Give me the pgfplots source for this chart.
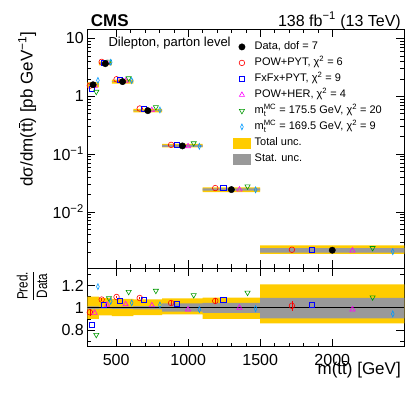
\documentclass[border=0pt]{standalone}
\usepackage{amsmath}
\usepackage{fontspec}
\setmainfont{Liberation Sans}
\usepackage{pgfplots}
\usepackage{pgfplotstable}
\pgfplotsset{compat=1.18}

\definecolor{totunc}{RGB}{255,204,0}
\definecolor{statunc}{RGB}{153,153,153}
\definecolor{powpyt}{RGB}{255,0,0}
\definecolor{fxfx}{RGB}{0,0,255}
\definecolor{powher}{RGB}{255,0,255}
\definecolor{mtup}{RGB}{0,153,0}
\definecolor{mtdn}{RGB}{0,153,255}

\newcommand{\ttbar}{t$\overline{\mbox{t}}$}

% one box per bin: x edge, data (pb/GeV), signed relative uncertainty
\pgfplotstableread{
x     d        f
300   1.58     0.100
380   1.58     0.100
380   1.58    -0.100
300   1.58    -0.100
nan   nan      nan
380   3.66     0.087
470   3.66     0.087
470   3.66    -0.068
380   3.66    -0.068
nan   nan      nan
470   1.79     0.080
620   1.79     0.080
620   1.79    -0.075
470   1.79    -0.075
nan   nan      nan
620   0.563    0.075
820   0.563    0.075
820   0.563   -0.065
620   0.563   -0.065
nan   nan      nan
820   0.138    0.085
1100  0.138    0.085
1100  0.138   -0.060
820   0.138   -0.060
nan   nan      nan
1100  0.0242   0.092
1500  0.0242   0.092
1500  0.0242  -0.100
1100  0.0242  -0.100
nan   nan      nan
1500  0.00216  0.210
2500  0.00216  0.210
2500  0.00216 -0.140
1500  0.00216 -0.140
}\totband

\pgfplotstableread{
x     d        f
300   1.58     0.012
380   1.58     0.012
380   1.58    -0.012
300   1.58    -0.012
nan   nan      nan
380   3.66     0.008
470   3.66     0.008
470   3.66    -0.008
380   3.66    -0.008
nan   nan      nan
470   1.79     0.010
620   1.79     0.010
620   1.79    -0.010
470   1.79    -0.010
nan   nan      nan
620   0.563    0.015
820   0.563    0.015
820   0.563   -0.015
620   0.563   -0.015
nan   nan      nan
820   0.138    0.040
1100  0.138    0.040
1100  0.138   -0.035
820   0.138   -0.035
nan   nan      nan
1100  0.0242   0.045
1500  0.0242   0.045
1500  0.0242  -0.045
1100  0.0242  -0.045
nan   nan      nan
1500  0.00216  0.090
2500  0.00216  0.090
2500  0.00216 -0.095
1500  0.00216 -0.095
}\statband

\pgfplotstableread{
x     y
340   1.58
425   3.66
545   1.79
720   0.563
960   0.138
1300  0.0242
2000  0.00216
}\data

% x, prediction (pb/GeV), ratio to data, MC unc on ratio
\pgfplotstableread{
x      y        r      e
317.6  1.517    0.960  0.030
399.8  3.931    1.074  0.012
503    1.964    1.097  0.012
664    0.6125   1.088  0.012
881.6  0.1439   1.043  0.015
1188   0.0257   1.062  0.030
1720   0.00220  1.018  0.045
}\powpytab

\pgfplotstableread{
x      y        r
328.8  1.335    0.845
412.4  3.759    1.027
524    1.897    1.060
692    0.6024   1.070
920.8  0.1432   1.038
1244   0.0260   1.075
1860   0.00221  1.024
}\fxfxtab

\pgfplotstableread{
x      y        r
351.2  1.509    0.955
437.6  3.759    1.027
566    1.847    1.032
748    0.5754   1.022
999.2  0.1359   0.985
1356   0.0242   1.000
2140   0.002128 0.985
}\powhertab

\pgfplotstableread{
x      y        r
362.4  1.196    0.757
450.2  3.975    1.086
587    2.046    1.143
776    0.6491   1.153
1038.4 0.1537   1.114
1412   0.0275   1.136
2280   0.002363 1.094
}\mtuptab

\pgfplotstableread{
x      y        r
373.6  1.880    1.190
462.8  3.872    1.058
608    1.869    1.044
804    0.5776   1.026
1077.6 0.1359   0.985
1468   0.0240   0.992
2420   0.002041 0.945
}\mtdntab

\pgfplotsset{
  cmsaxis/.style={
    scale only axis, width=317pt, xmin=300, xmax=2500,
    tick align=inside, tick pos=both,
    xtick={500,1000,1500,2000}, minor x tick num=4,
    major tick length=8pt, minor tick length=4pt,
    every tick/.style={black, line width=0.5pt},
    axis line style={line width=0.6pt},
    tick label style={font=\fontsize{16}{19}\selectfont},
    label style={font=\fontsize{17}{20}\selectfont},
    unbounded coords=jump,
  },
  band/.style={draw=none, fill=#1, forget plot},
  mk/.style={only marks, line width=0.6pt},
  mkpowpyt/.style={mk, powpyt, mark=o, mark size=2.8pt},
  mkfxfx/.style={mk, fxfx, mark=square, mark size=2.6pt},
  mkpowher/.style={mk, powher, mark=triangle, mark size=3pt},
  mkmtup/.style={mk, mtup, mark=triangle, mark size=3pt, mark options={rotate=180}},
  mkmtdn/.style={mk, mtdn, mark=diamond, mark size=3pt, mark options={xscale=0.6}},
}

\begin{document}
\begin{tikzpicture}

\begin{axis}[cmsaxis, at={(87.3pt,-268.3pt)}, anchor=south west, height=239pt,
  ymode=log, ymin=1.05e-3, ymax=14.4,
  ytick={0.01,0.1,1,10},
  yticklabels={10\textsuperscript{−2},10\textsuperscript{−1},1,10},
  minor ytick={0.002,0.003,0.004,0.005,0.006,0.007,0.008,0.009,
    0.02,0.03,0.04,0.05,0.06,0.07,0.08,0.09,
    0.2,0.3,0.4,0.5,0.6,0.7,0.8,0.9,2,3,4,5,6,7,8,9},
  xticklabels={},
  ylabel={dσ/dm(\ttbar) [pb GeV\textsuperscript{−1}]},
  ylabel style={at={(axis description cs:-0.19,1.005)}, anchor=east},
  legend cell align=left,
  legend style={draw=none, fill=none, at={(0.4596,0.9533)}, anchor=north west,
    inner sep=0pt, font=\fontsize{11}{13}\selectfont, row sep=3.5pt, column sep=3pt,
    nodes={inner sep=1pt, text height=8pt, text depth=2.5pt}},
]
\addlegendimage{only marks, black, mark=*, mark size=3.2pt}
\addlegendentry{Data, dof = 7}
\addlegendimage{mkpowpyt}
\addlegendentry{POW+PYT, χ\textsuperscript{2} = 6}
\addlegendimage{mkfxfx}
\addlegendentry{FxFx+PYT, χ\textsuperscript{2} = 9}
\addlegendimage{mkpowher}
\addlegendentry{POW+HER, χ\textsuperscript{2} = 4}
\addlegendimage{mkmtup}
\addlegendentry{m$_{\text{t}}^{\text{MC}}$ = 175.5 GeV, χ\textsuperscript{2} = 20}
\addlegendimage{mkmtdn}
\addlegendentry{m$_{\text{t}}^{\text{MC}}$ = 169.5 GeV, χ\textsuperscript{2} = 9}
\addlegendimage{legend image code/.code={\fill[totunc] (0pt,-5pt) rectangle (17.07pt,5pt);}}
\addlegendentry{Total unc.}
\addlegendimage{legend image code/.code={\fill[statunc] (0pt,-5pt) rectangle (17.07pt,5pt);}}
\addlegendentry{Stat. unc.}

\addplot[band=totunc] table[x=x, y expr=\thisrow{d}*(1+\thisrow{f})] {\totband};
\addplot[band=statunc] table[x=x, y expr=\thisrow{d}*(1+\thisrow{f})] {\statband};

\addplot[mkpowpyt, forget plot] table[x=x, y=y] {\powpytab};
\addplot[mkfxfx, forget plot] table[x=x, y=y] {\fxfxtab};
\addplot[mkpowher, forget plot] table[x=x, y=y] {\powhertab};
\addplot[mkmtup, forget plot] table[x=x, y=y] {\mtuptab};
\addplot[mkmtdn, forget plot] table[x=x, y=y] {\mtdntab};
\addplot[only marks, black, mark=*, mark size=3.2pt, forget plot] table[x=x, y=y] {\data};

\node[anchor=base west, font=\fontsize{13}{15}\selectfont]
  at (axis description cs:0.0558,0.930) {Dilepton, parton level};
\end{axis}

\begin{axis}[cmsaxis, at={(87.3pt,-346.5pt)}, anchor=south west, height=78.2pt,
  ymin=0.652, ymax=1.355,
  ytick={0.8,1,1.2}, yticklabels={0.8,1,1.2},
  minor ytick={0.7,0.9,1.1,1.3},
  xticklabels={500,1000,1500,2000},
  xticklabel style={yshift=-4pt},
  xlabel={m(\ttbar) [GeV]},
  xlabel style={at={(axis description cs:1,-0.36)}, anchor=base east},
  ylabel={\scalebox{0.78}[1]{$\dfrac{\text{Pred.}}{\text{Data}}$}},
  ylabel style={at={(axis description cs:-0.1745,0.774)}, anchor=center,
    font=\fontsize{15}{17}\selectfont},
]
\addplot[band=totunc] table[x=x, y expr=1+\thisrow{f}] {\totband};
\addplot[band=statunc] table[x=x, y expr=1+\thisrow{f}] {\statband};
\addplot[black, line width=0.6pt, forget plot] coordinates {(300,1) (2500,1)};

\addplot[mkpowpyt, forget plot, error bars/.cd, y dir=both, y explicit,
  error bar style={powpyt, line width=0.6pt}, error mark=none]
  table[x=x, y=r, y error=e] {\powpytab};
\addplot[mkfxfx, forget plot] table[x=x, y=r] {\fxfxtab};
\addplot[mkpowher, forget plot] table[x=x, y=r] {\powhertab};
\addplot[mkmtup, forget plot] table[x=x, y=r] {\mtuptab};
\addplot[mkmtdn, forget plot] table[x=x, y=r] {\mtdntab};
\end{axis}

\node[anchor=base west, font=\fontsize{17}{20}\selectfont\bfseries] at (87.3pt,-26pt) {CMS};
\node[anchor=base east, font=\fontsize{16}{19}\selectfont] at (404.3pt,-26pt)
  {138 fb\textsuperscript{−1} (13 TeV)};
\path (0pt,0pt) rectangle (407pt,-394pt);
\end{tikzpicture}
\end{document}
